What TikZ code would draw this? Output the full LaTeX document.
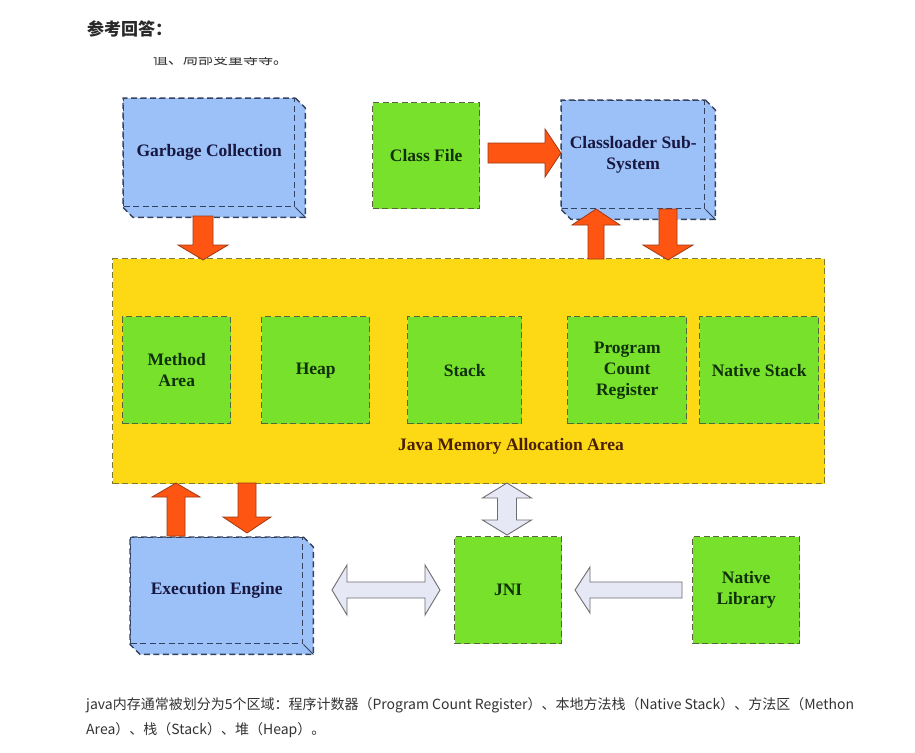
\documentclass[tikz,border=0pt]{standalone}
\usepackage{fontspec}
\setmainfont{Liberation Serif}
\newfontfamily\cjk{Noto Sans CJK SC}
\usetikzlibrary{calc,backgrounds}
\definecolor{bluefill}{HTML}{9CC0F8}
\definecolor{blueedge}{HTML}{33435F}
\definecolor{greenfill}{HTML}{77E12C}
\definecolor{greenedge}{HTML}{55663A}
\definecolor{yellowfill}{HTML}{FDD915}
\definecolor{yellowedge}{HTML}{7F7A2C}
\definecolor{orangefill}{HTML}{FF5512}
\definecolor{orangeedge}{HTML}{9C3A14}
\definecolor{palefill}{HTML}{E6E8F5}
\definecolor{paleedge}{HTML}{6E6E72}
\definecolor{bluetext}{HTML}{17173F}
\definecolor{greentext}{HTML}{10300A}
\definecolor{browntext}{HTML}{4A2000}
\definecolor{bodytext}{HTML}{333333}
\newcommand\varr[8]{% style, cx, ytail, ybase, ytip, shaft half, head half
  \draw[#1] ({#2-#6},#3) -- ({#2-#6},#4) -- ({#2-#7},#4) -- (#2,#5) -- ({#2+#7},#4) -- ({#2+#6},#4) -- ({#2+#6},#3) -- cycle;}
\newcommand\harr[8]{% style, cy, xtail, xbase, xtip, shaft half, head half
  \draw[#1] (#3,{#2-#6}) -- (#4,{#2-#6}) -- (#4,{#2-#7}) -- (#5,#2) -- (#4,{#2+#7}) -- (#4,{#2+#6}) -- (#3,{#2+#6}) -- cycle;}
\newcommand\vdarr[8]{% style, cx, ytip1, ybase1, ybase2, ytip2, shaft half, head half
  \draw[#1] (#2,#3) -- ({#2+#8},#4) -- ({#2+#7},#4) -- ({#2+#7},#5) -- ({#2+#8},#5) -- (#2,#6) -- ({#2-#8},#5) -- ({#2-#7},#5) -- ({#2-#7},#4) -- ({#2-#8},#4) -- cycle;}
\newcommand\hdarr[8]{% style, cy, xtip1, xbase1, xbase2, xtip2, shaft half, head half
  \draw[#1] (#3,#2) -- (#4,{#2-#8}) -- (#4,{#2-#7}) -- (#5,{#2-#7}) -- (#5,{#2-#8}) -- (#6,#2) -- (#5,{#2+#8}) -- (#5,{#2+#7}) -- (#4,{#2+#7}) -- (#4,{#2+#8}) -- cycle;}
\tikzset{
  boxbase/.style={rectangle, anchor=north west, inner sep=0pt, line width=1.4pt,
    dash pattern=on 6pt off 3.5pt, align=center,
    font=\bfseries\fontsize{17.5}{21}\selectfont},
  bluebox/.style={boxbase, fill=bluefill, draw=blueedge, text=bluetext},
  greenbox/.style={boxbase, fill=greenfill, draw=greenedge, text=greentext},
  extrude/.style={fill=bluefill, draw=blueedge, line width=1.4pt, dash pattern=on 6pt off 3.5pt},
  orangearrow/.style={fill=orangefill, draw=orangeedge, line width=0.8pt, line join=miter},
  palearrow/.style={fill=palefill, draw=paleedge, line width=0.9pt, line join=miter},
}
\begin{document}
\begin{tikzpicture}[x=1pt,y=-1pt]
\useasboundingbox (0,0) rectangle (915,752);
\begin{scope}[on background layer]
  \fill[white] (0,0) rectangle (915,752);
\end{scope}

% header texts
\node[anchor=base west, inner sep=0pt, text=bodytext!80!black,
  font=\cjk\bfseries\fontsize{17}{20}\selectfont] (title) at (87,36) {参考回答：};
\begin{scope}
  \clip (140,57.5) rectangle (320,75);
  \node[anchor=base west, inner sep=0pt, text=bodytext,
    font=\cjk\fontsize{15}{18}\selectfont] (cut) at (153,65) {值、局部变量等等。};
\end{scope}

% yellow memory area
\node[boxbase, fill=yellowfill, draw=yellowedge, minimum width=712pt, minimum height=225pt] (mem) at (112,258) {};
\node[font=\bfseries\fontsize{17.5}{21}\selectfont, text=browntext, inner sep=0pt] (memlabel) at (511,446) {Java Memory Allocation Area};

% inner green boxes
\node[greenbox, minimum width=108pt, minimum height=107pt] (method) at (122,316) {Method\\Area};
\node[greenbox, minimum width=108pt, minimum height=107pt] (heap) at (261,316) {Heap};
\node[greenbox, minimum width=114pt, minimum height=107pt] (stack) at (407,316) {Stack};
\node[greenbox, minimum width=119pt, minimum height=107pt] (pcr) at (567,316) {Program\\Count\\Register};
\node[greenbox, minimum width=119pt, minimum height=107pt] (native) at (699,316) {Native Stack};

% top boxes
\node[bluebox, minimum width=171pt, minimum height=108pt] (gc) at (123,98) {Garbage Collection};
\node[greenbox, minimum width=107pt, minimum height=106pt] (classfile) at (372,102) {Class File};
\node[bluebox, minimum width=143pt, minimum height=108pt] (loader) at (561,100) {Classloader Sub-\\System};

% bottom boxes
\node[bluebox, minimum width=172pt, minimum height=106pt] (engine) at (130,537) {Execution Engine};
\node[greenbox, minimum width=107pt, minimum height=107pt] (jni) at (454,536) {JNI};
\node[greenbox, minimum width=107pt, minimum height=107pt] (natlib) at (692,536) {Native\\Library};

% 3D extrusions (behind the front faces)
\begin{scope}[on background layer]
  \foreach \b in {gc,loader,engine}{
    \draw[extrude] (\b.north east) -- ($(\b.north east)+(10,10)$) -- ($(\b.south east)+(10,10)$)
      -- ($(\b.south west)+(10,10)$) -- (\b.south west) -- (\b.north west) -- cycle;
    \draw[blueedge, line width=1pt] (\b.south east) -- ($(\b.south east)+(10,10)$);
  }
\end{scope}

% orange block arrows
\varr{orangearrow}{203}{216}{245}{260}{10}{25}{}
\harr{orangearrow}{153}{488}{545}{561}{10}{24}{}
\varr{orangearrow}{596}{259}{225}{209}{8}{24}{}
\varr{orangearrow}{668}{209}{245}{260}{9}{25}{}
\varr{orangearrow}{176}{536}{497}{483}{9}{24}{}
\varr{orangearrow}{247}{483}{517}{533}{9}{24}{}

% pale block arrows
\hdarr{palearrow}{590}{332}{347}{425}{440}{8}{25}
\vdarr{palearrow}{507}{483}{498}{520}{535}{9.5}{24.5}
\harr{palearrow}{590}{682}{590}{575}{8}{23}{}

% bottom text
\node[anchor=base west, inner sep=0pt, text=bodytext, align=left,
  font=\cjk\fontsize{14}{25}\selectfont] (body) at (86,734)
  {java内存通常被划分为5个区域：程序计数器（Program Count Register）、本地方法栈（Native Stack）、方法区（Methon\\Area）、栈（Stack）、堆（Heap）。};
\end{tikzpicture}
\end{document}
